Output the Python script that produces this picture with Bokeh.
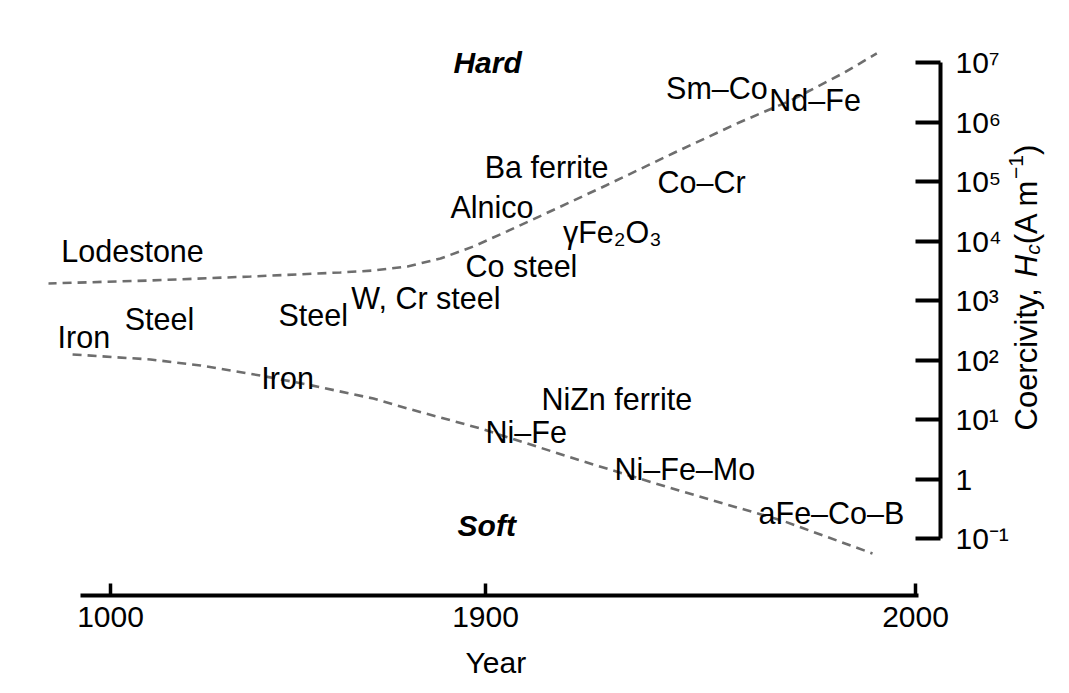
import math
from bokeh.plotting import figure
from bokeh.models import Range1d, FixedTicker, LogAxis, Title
from bokeh.embed import file_html
from bokeh.resources import INLINE
from bokeh.core.properties import value

# ---------------- data ----------------
# upper (hard magnets) trend line
HARD_YEARS = [849, 1096, 1336, 1552, 1631, 1713, 1792, 1871, 1905, 1913, 1928, 1944, 1959, 1971, 1983, 1991]
HARD_HC = [1.93e3, 2.17e3, 2.53e3, 2.96e3, 3.19e3, 3.73e3, 5.08e3, 8.09e3, 1.45e4, 2.68e4,
           8.57e4, 3.07e5, 9.8e5, 2.3e6, 6.5e6, 1.42e7]
# lower (soft magnets) trend line
SOFT_YEARS = [909, 1096, 1216, 1360, 1473, 1631, 1713, 1888, 1922, 1945, 1969, 1990]
SOFT_HC = [124, 102, 80.9, 54.8, 38.7, 22.5, 15.3, 7.06, 2.05, 0.64, 0.20, 0.056]

# material labels (left edge year, coercivity at label centre)
MATERIALS = ["Lodestone", "Iron", "Steel", "Steel", "W, Cr steel", "Iron", "Co steel",
             "Alnico", "Ba ferrite", "γFe₂O₃", "Ni–Fe", "NiZn ferrite", "Co–Cr",
             "Ni–Fe–Mo", "Sm–Co", "Nd–Fe", "aFe–Co–B"]
MAT_YEARS = [882, 873, 1034, 1403, 1578, 1362, 1852,
             1816, 1898, 1918, 1900, 1913, 1940,
             1930, 1942, 1966, 1963.5]
MAT_HC = [6.9e3, 239, 498, 560, 1.12e3, 50.8, 3.73e3,
          3.66e4, 1.72e5, 1.39e4, 6.05, 21.7, 1.0e5,
          1.5, 3.8e6, 2.3e6, 0.27]

REGIONS = ["Hard", "Soft"]
REGION_YEARS = [1823, 1833]
REGION_HC = [1.0e7, 0.165]

X_TICK_YEARS = [1000, 1900, 2000]
Y_TICKS = [0.1, 1, 10, 100, 1e3, 1e4, 1e5, 1e6, 1e7]
Y_TICK_LABELS = ["10⁻¹", "1", "10¹", "10²", "10³", "10⁴", "10⁵", "10⁶", "10⁷"]


# broken time axis: 1000-1900 compressed, 1900-2000 expanded
def to_u(year):
    if year <= 1900:
        return (year - 1000) * 375.0 / 900.0
    return 375.0 + (year - 1900) * 4.3


FONT = "Liberation Sans"
W, H = 1069, 693
FL, FT, FB = 48, 30, 595          # frame left / top / bottom (px)
PX_PER_DEC = 59.5


def u_of_px(px):
    return px - 110.0


def hc_of_py(py):
    return 10 ** (7 - (py - 62) / PX_PER_DEC)


p = figure(width=W, height=H, output_backend="svg", toolbar_location=None,
           x_range=Range1d(u_of_px(FL), u_of_px(W)),
           y_range=Range1d(hc_of_py(FB), hc_of_py(FT)),
           y_axis_type="log", y_axis_location=None, x_axis_location="below",
           min_border_left=FL, min_border_right=0, min_border_top=FT, min_border_bottom=H - FB)
p.grid.visible = False
p.outline_line_color = None
p.background_fill_color = "white"
p.border_fill_color = "white"

# curves
p.line([to_u(y) for y in HARD_YEARS], HARD_HC, line_color="#6e6e6e", line_width=2.6, line_dash="9 6")
p.line([to_u(y) for y in SOFT_YEARS], SOFT_HC, line_color="#6e6e6e", line_width=2.6, line_dash="9 6")

# labels
p.text([to_u(y) for y in MAT_YEARS], MAT_HC, text=MATERIALS, text_font=value(FONT),
       text_font_size="30.5px", text_align="left", text_baseline="middle", text_color="black")
p.text([to_u(y) for y in REGION_YEARS], REGION_HC, text=REGIONS, text_font=value(FONT),
       text_font_size="30px", text_font_style="bold italic", text_align="left",
       text_baseline="middle", text_color="black")

# x axis
xt = [round(to_u(y)) for y in X_TICK_YEARS]
xa = p.xaxis[0]
xa.ticker = FixedTicker(ticks=xt)
xa.major_label_overrides = {t: str(y) for t, y in zip(xt, X_TICK_YEARS)}
xa.bounds = (u_of_px(80), u_of_px(918))
xa.axis_line_width = 4
xa.major_tick_line_width = 3.5
xa.major_tick_in = 12
xa.major_tick_out = 0
xa.minor_tick_line_color = None
xa.major_label_text_font = FONT
xa.major_label_text_font_size = "30px"
xa.major_label_text_color = "black"
xa.major_label_standoff = 11

p.add_layout(Title(text="Year", align="left", offset=417, text_font=FONT, text_font_size="30px",
                   text_font_style="normal", text_color="black", standoff=28), "below")

# y axis (drawn at fixed position, labels to its right)
ya = LogAxis(ticker=FixedTicker(ticks=Y_TICKS), fixed_location=u_of_px(940))
ya.major_label_overrides = {t: s for t, s in zip(Y_TICKS, Y_TICK_LABELS)}
ya.bounds = (0.1, 1e7)
ya.axis_line_width = 4
ya.major_tick_line_width = 4
ya.major_tick_in = 25
ya.major_tick_out = 0
ya.minor_tick_line_color = None
ya.major_label_text_font = FONT
ya.major_label_text_font_size = "30px"
ya.major_label_text_color = "black"
ya.major_label_standoff = 15
p.add_layout(ya, "right")

# y axis title, assembled from pieces (rotated text reading upwards)
pieces = [
    ("Coercivity, ", 1026, 430.0, "31px", "normal"),
    ("H", 1026, 276.7, "31px", "italic"),
    ("c", 1032, 254.3, "21px", "italic"),
    ("(A m", 1026, 243.8, "31px", "normal"),
    ("−1", 1015, 178.4, "21px", "normal"),
    (")", 1026, 154.5, "31px", "normal"),
]
for txt, px, py, fs, st in pieces:
    p.text([u_of_px(px)], [hc_of_py(py)], text=[txt], angle=math.pi / 2,
           text_font=value(FONT), text_font_size=fs, text_font_style=st,
           text_align="left", text_baseline="alphabetic", text_color="black")

open("out.html", "w").write(file_html(p, INLINE))
